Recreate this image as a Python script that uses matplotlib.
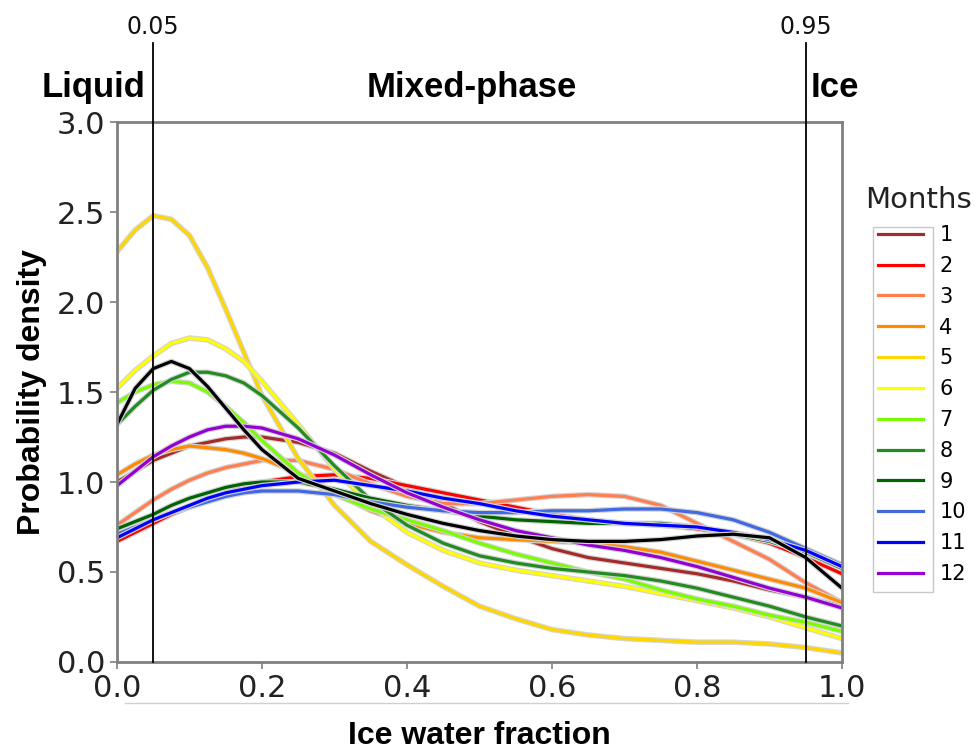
import matplotlib
matplotlib.use('Agg')
import matplotlib.pyplot as plt
import matplotlib.patheffects as pe
from matplotlib.lines import Line2D
from matplotlib.patches import Rectangle

# Ice water fraction grid where the densities were sampled
ice_fraction = [0.0, 0.025, 0.05, 0.075, 0.1, 0.125, 0.15, 0.175, 0.2, 0.25, 0.3, 0.35, 0.4,
                0.45, 0.5, 0.55, 0.6, 0.65, 0.7, 0.75, 0.8, 0.85, 0.9, 0.95, 1.0]

# Probability density per month
month_1 = [1.00, 1.06, 1.12, 1.16, 1.20, 1.22, 1.24, 1.25, 1.25, 1.22, 1.16, 1.06, 0.97,
           0.88, 0.78, 0.70, 0.63, 0.58, 0.55, 0.52, 0.49, 0.45, 0.40, 0.36, 0.31]
month_2 = [0.67, 0.72, 0.77, 0.82, 0.86, 0.90, 0.94, 0.98, 1.00, 1.03, 1.04, 1.02, 0.98,
           0.94, 0.90, 0.86, 0.82, 0.79, 0.77, 0.76, 0.74, 0.71, 0.66, 0.58, 0.49]
month_3 = [0.76, 0.83, 0.90, 0.96, 1.01, 1.05, 1.08, 1.10, 1.12, 1.12, 1.07, 0.99, 0.92,
           0.88, 0.88, 0.90, 0.92, 0.93, 0.92, 0.87, 0.77, 0.67, 0.57, 0.44, 0.33]
month_4 = [1.04, 1.10, 1.15, 1.18, 1.20, 1.19, 1.18, 1.16, 1.13, 1.05, 0.94, 0.84, 0.77,
           0.72, 0.69, 0.68, 0.67, 0.66, 0.64, 0.61, 0.56, 0.51, 0.46, 0.41, 0.33]
month_5 = [2.28, 2.40, 2.48, 2.46, 2.37, 2.19, 1.96, 1.72, 1.48, 1.13, 0.87, 0.67, 0.54,
           0.42, 0.31, 0.24, 0.18, 0.15, 0.13, 0.12, 0.11, 0.11, 0.10, 0.08, 0.05]
month_6 = [1.52, 1.62, 1.70, 1.77, 1.80, 1.79, 1.74, 1.67, 1.56, 1.32, 1.07, 0.87, 0.72,
           0.62, 0.55, 0.51, 0.48, 0.45, 0.42, 0.38, 0.34, 0.30, 0.25, 0.19, 0.13]
month_7 = [1.44, 1.50, 1.54, 1.56, 1.55, 1.50, 1.42, 1.33, 1.23, 1.05, 0.93, 0.85, 0.79,
           0.73, 0.66, 0.60, 0.55, 0.50, 0.46, 0.40, 0.35, 0.31, 0.26, 0.22, 0.17]
month_8 = [1.32, 1.42, 1.51, 1.57, 1.61, 1.61, 1.59, 1.55, 1.48, 1.30, 1.09, 0.90, 0.76,
           0.66, 0.59, 0.55, 0.52, 0.50, 0.48, 0.45, 0.41, 0.36, 0.31, 0.25, 0.20]
month_9 = [0.74, 0.78, 0.82, 0.87, 0.91, 0.94, 0.97, 0.99, 1.00, 1.00, 0.96, 0.91, 0.87,
           0.84, 0.81, 0.79, 0.78, 0.77, 0.77, 0.77, 0.75, 0.71, 0.67, 0.61, 0.52]
month_10 = [0.71, 0.75, 0.79, 0.83, 0.86, 0.89, 0.92, 0.94, 0.95, 0.95, 0.93, 0.89, 0.86,
            0.84, 0.83, 0.83, 0.84, 0.84, 0.85, 0.85, 0.83, 0.79, 0.72, 0.63, 0.54]
month_11 = [0.69, 0.74, 0.79, 0.83, 0.87, 0.91, 0.94, 0.96, 0.98, 1.00, 1.01, 0.98, 0.95,
            0.91, 0.88, 0.84, 0.81, 0.79, 0.77, 0.76, 0.75, 0.72, 0.68, 0.62, 0.53]
month_12 = [0.98, 1.06, 1.14, 1.20, 1.25, 1.29, 1.31, 1.31, 1.30, 1.24, 1.15, 1.04, 0.94,
            0.86, 0.79, 0.73, 0.69, 0.65, 0.62, 0.58, 0.53, 0.47, 0.41, 0.36, 0.30]
# extra curve drawn in black, not listed in the legend
unlabelled = [1.32, 1.52, 1.63, 1.67, 1.63, 1.53, 1.41, 1.29, 1.18, 1.02, 0.95, 0.88, 0.82,
              0.77, 0.73, 0.70, 0.68, 0.67, 0.67, 0.68, 0.70, 0.71, 0.69, 0.58, 0.41]

months = ['1', '2', '3', '4', '5', '6', '7', '8', '9', '10', '11', '12']
densities = [month_1, month_2, month_3, month_4, month_5, month_6,
             month_7, month_8, month_9, month_10, month_11, month_12]
colors = ['#a52a2a', '#ff0000', '#ff7f50', '#ff8c00', '#ffd700', '#ffff00',
          '#7cfc00', '#228b22', '#006400', '#4169e1', '#0000ff', '#9400d3']

phase_limits = [0.05, 0.95]
phase_names = ['Liquid', 'Mixed-phase', 'Ice']
phase_centres = [-0.033, 0.49, 0.99]

fig = plt.figure(figsize=(9.75, 7.49), dpi=100)
ax = fig.add_axes([0.12, 0.1162, 0.7436, 0.7208])

halo = [pe.Stroke(linewidth=4.0, foreground='#d4d4d4'), pe.Normal()]
handles = []
for m, d, c in zip(months, densities, colors):
    ax.plot(ice_fraction, d, color=c, lw=2.3, path_effects=halo, label=m)
    handles.append(Line2D([], [], color=c, lw=2.3))
ax.plot(ice_fraction, unlabelled, color='black', lw=2.3, path_effects=halo)

# phase boundaries reach above the frame
for b in phase_limits:
    ax.plot([b, b], [0, 3.44], color='black', lw=1.3, clip_on=False, zorder=5)
    ax.text(b, 3.53, f'{b:g}', ha='center', va='center', fontsize=17,
            family='DejaVu Sans', color='#111111')

for name, xc in zip(phase_names, phase_centres):
    ax.text(xc, 3.19, name, ha='center', va='center', fontsize=25,
            fontweight='bold', family='Liberation Sans', clip_on=False)

ax.set_xlim(0, 1)
ax.set_ylim(0, 3)
ax.set_xticks([0.0, 0.2, 0.4, 0.6, 0.8, 1.0])
ax.set_yticks([0.0, 0.5, 1.0, 1.5, 2.0, 2.5, 3.0])
ax.set_xticklabels(['0.0', '0.2', '0.4', '0.6', '0.8', '1.0'])
ax.set_yticklabels(['0.0', '0.5', '1.0', '1.5', '2.0', '2.5', '3.0'])
ax.tick_params(labelsize=22, colors='#7f7f7f', labelcolor='#222222', length=5, width=1.2)
for lbl in ax.get_xticklabels() + ax.get_yticklabels():
    lbl.set_family('DejaVu Sans')
for s in ax.spines.values():
    s.set_color('#808080')
    s.set_linewidth(2)

ax.set_xlabel('Ice water fraction', fontsize=23, fontweight='bold',
              family='Liberation Sans', labelpad=13)
ax.set_ylabel('Probability density', fontsize=23, fontweight='bold',
              family='Liberation Sans', labelpad=7)

# faint rule under the x tick labels
fig.add_artist(Line2D([125 / 975, 848 / 975], [1 - 703 / 749, 1 - 703 / 749],
                      color='#d0d0d0', lw=1))

# legend: title above, frame around the handles only
fig.text(918 / 975, 1 - 200 / 749, 'Months', ha='center', va='center', fontsize=21,
         family='DejaVu Sans', color='#222222')
fig.legend(handles, months, loc='upper left', bbox_to_anchor=(878 / 975, 1 - 225 / 749),
           frameon=False, handlelength=2.15, handletextpad=0.8,
           labelspacing=0.52, borderpad=0, borderaxespad=0,
           prop={'family': 'DejaVu Sans', 'size': 15})
fig.add_artist(Rectangle((873 / 975, 1 - 592 / 749), 60 / 975, 365 / 749,
                         transform=fig.transFigure, fill=False, edgecolor='#c8c8c8', lw=1))

fig.savefig('out.png', dpi=100)
